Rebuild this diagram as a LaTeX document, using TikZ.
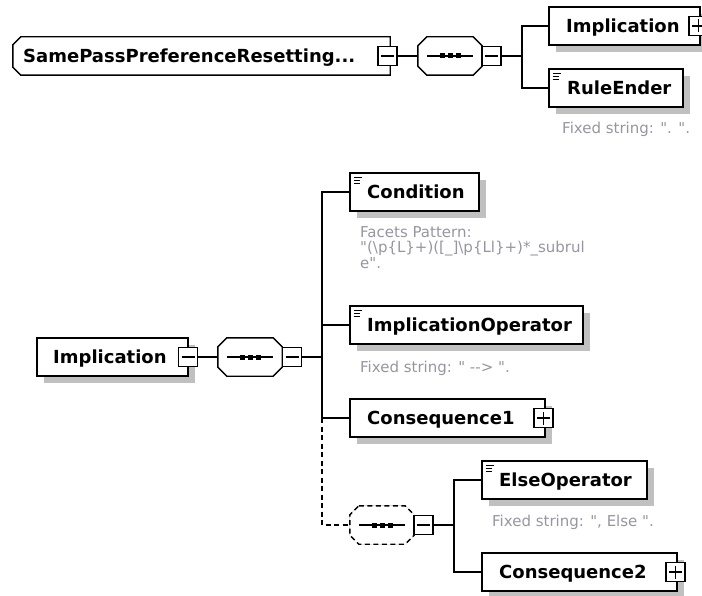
\documentclass[tikz,border=0pt]{standalone}
\usepackage{fontspec}
\setmainfont{DejaVu Sans}
\newfontfamily\notefont{DejaVu Sans}
\usetikzlibrary{shadows}
\definecolor{shade}{RGB}{192,192,192}
\definecolor{facet}{RGB}{150,150,162}
\tikzset{
  conn/.style={line width=1.4pt},
  elem/.style={draw, fill=white, line width=1.4pt, minimum height=38pt, inner sep=0pt,
    general shadow={fill=shade, shadow xshift=7pt, shadow yshift=-7pt}},
  simple/.style={elem, path picture={
      \draw[solid, line width=1.1pt] ([xshift=3.5pt,yshift=-4.5pt]path picture bounding box.north west) -- ++(8pt,0pt);
      \draw[solid, line width=1.1pt] ([xshift=3.5pt,yshift=-7.5pt]path picture bounding box.north west) -- ++(6.5pt,0pt);
      \draw[solid, line width=1.1pt] ([xshift=3.5pt,yshift=-10.5pt]path picture bounding box.north west) -- ++(6.5pt,0pt);}},
  compobox/.style={minimum width=64pt, minimum height=38pt, inner sep=0pt},
  outline/.style={draw, fill=white, line width=1.4pt},
  pmbox/.style={draw, fill=white, minimum size=19pt, inner sep=0pt, line width=1.3pt},
  minusbox/.style={pmbox, path picture={
      \draw[solid, line width=1.1pt] ([xshift=3pt]path picture bounding box.west) -- ([xshift=-3pt]path picture bounding box.east);}},
  plusbox/.style={pmbox, path picture={
      \draw[solid, line width=1.1pt] ([xshift=3pt]path picture bounding box.west) -- ([xshift=-3pt]path picture bounding box.east);
      \draw[solid, line width=1.1pt] ([yshift=-3pt]path picture bounding box.north) -- ([yshift=3pt]path picture bounding box.south);}},
  lab/.style={anchor=base west, inner sep=0pt, font=\bfseries\fontsize{18}{20}\selectfont},
  note/.style={anchor=base west, inner sep=0pt, font=\notefont\fontsize{15}{15.5}\selectfont, text=facet, align=left},
  notetop/.style={note, anchor=north west},
}
% octagon (sequence compositor) drawn around a named node
\newcommand\octa[2][]{%
  \fill[shade, shift={(7pt,-7pt)}] ([xshift=9pt]#2.north west) -- ([xshift=-9pt]#2.north east) -- ([yshift=-9pt]#2.north east) -- ([yshift=9pt]#2.south east) -- ([xshift=-9pt]#2.south east) -- ([xshift=9pt]#2.south west) -- ([yshift=9pt]#2.south west) -- ([yshift=-9pt]#2.north west) -- cycle;
  \draw[outline, #1] ([xshift=9pt]#2.north west) -- ([xshift=-9pt]#2.north east) -- ([yshift=-9pt]#2.north east) -- ([yshift=9pt]#2.south east) -- ([xshift=-9pt]#2.south east) -- ([xshift=9pt]#2.south west) -- ([yshift=9pt]#2.south west) -- ([yshift=-9pt]#2.north west) -- cycle;
  \draw[line width=1.1pt] ([xshift=9pt]#2.west) -- ([xshift=-9pt]#2.east);
  \foreach \dx in {-8,0,8} \fill ([xshift=\dx pt]#2.center) ++(-2.5pt,-2.5pt) rectangle ++(5pt,5pt);
}
\begin{document}
\begin{tikzpicture}[x=1pt,y=-1pt]
\useasboundingbox (0,0) rectangle (702,596);
% ---------- top diagram ----------
\node[minimum width=377pt, minimum height=38pt, inner sep=0pt] (same) at (201.5,56) {};
\fill[shade, shift={(7pt,-7pt)}] ([xshift=8pt]same.north west) -- (same.north east) -- (same.south east) -- ([xshift=8pt]same.south west) -- ([yshift=8pt]same.south west) -- ([yshift=-8pt]same.north west) -- cycle;
\draw[outline] ([xshift=8pt]same.north west) -- (same.north east) -- (same.south east) -- ([xshift=8pt]same.south west) -- ([yshift=8pt]same.south west) -- ([yshift=-8pt]same.north west) -- cycle;
\node[lab] (same-t) at (23,62.5) {SamePassPreferenceResetting...};
\node[minusbox] (same-m) at (387.5,56) {};
\node[compobox] (seq1) at (450,56) {};
\octa{seq1}
\node[minusbox] (seq1-m) at (491.5,56) {};
\coordinate (br1) at (522,56);
\node[elem, minimum width=151pt] (implT) at (624.5,26) {};
\node[lab] (implT-t) at (566,32.5) {Implication};
\node[plusbox] (implT-p) at (698.5,26) {};
\node[simple, minimum width=134pt] (rule) at (616,88) {};
\node[lab] (rule-t) at (567,94.5) {RuleEnder};
\node[note] (rule-n) at (562,134) {Fixed string: ". ".};
\draw[conn] (same-m.east) -- (seq1.west);
\draw[conn] (seq1-m.east) -- (br1);
\draw[conn] (implT.west) -- (implT.west -| br1) -- (rule.west -| br1) -- (rule.west);
% ---------- bottom diagram ----------
\node[elem, minimum width=151pt] (implB) at (112.5,357) {};
\node[lab] (implB-t) at (53,363.5) {Implication};
\node[minusbox] (implB-m) at (188,357) {};
\node[compobox] (seq2) at (250,357) {};
\octa{seq2}
\node[minusbox] (seq2-m) at (292,357) {};
\coordinate (br2) at (322,357);
\node[simple, minimum width=129pt] (cond) at (414.5,192) {};
\node[lab] (cond-t) at (367,198.5) {Condition};
\node[notetop] (cond-n) at (360,226) {Facets Pattern:\\"(\textbackslash p\{L\}+)([\_]\textbackslash p\{Ll\}+)*\_subrul\\e".};
\node[simple, minimum width=233pt] (iop) at (466.5,325) {};
\node[lab] (iop-t) at (367,331.5) {ImplicationOperator};
\node[note] (iop-n) at (360,372) {Fixed string: " -{}-> ".};
\node[elem, minimum width=195pt] (cons1) at (447.5,418) {};
\node[lab] (cons1-t) at (367,424.5) {Consequence1};
\node[plusbox] (cons1-p) at (543.5,418) {};
\node[compobox] (seq3) at (382,525) {};
\octa[dash pattern=on 5pt off 3.5pt]{seq3}
\node[minusbox] (seq3-m) at (423.5,525) {};
\coordinate (br3) at (454,525);
\node[simple, minimum width=165pt] (else) at (564.5,480) {};
\node[lab] (else-t) at (499,486.5) {ElseOperator};
\node[note] (else-n) at (492,526) {Fixed string: ", Else ".};
\node[elem, minimum width=195pt] (cons2) at (579.5,572) {};
\node[lab] (cons2-t) at (499,578.5) {Consequence2};
\node[plusbox] (cons2-p) at (675.5,572) {};
\draw[conn] (implB-m.east) -- (seq2.west);
\draw[conn] (seq2-m.east) -- (br2);
\draw[conn] (cond.west) -- (cond.west -| br2) -- (cons1.west -| br2) -- (cons1.west);
\draw[conn] (iop.west -| br2) -- (iop.west);
\draw[conn, dash pattern=on 5pt off 3.5pt] (cons1.west -| br2) -- (seq3.west -| br2) -- (seq3.west);
\draw[conn] (seq3-m.east) -- (br3);
\draw[conn] (else.west) -- (else.west -| br3) -- (cons2.west -| br3) -- (cons2.west);
\end{tikzpicture}
\end{document}
